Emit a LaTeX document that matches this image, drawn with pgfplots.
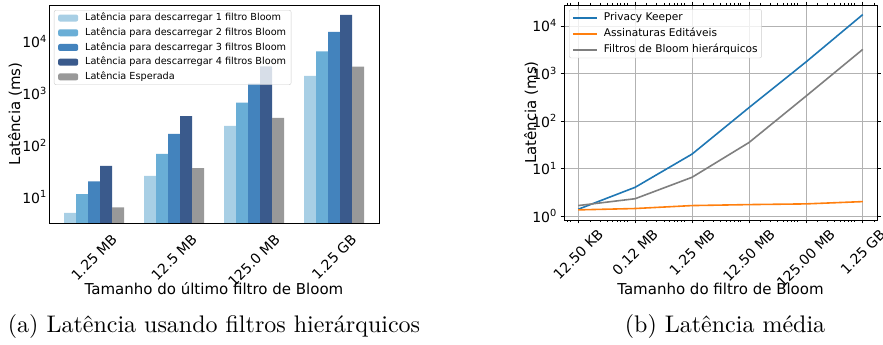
\documentclass[border=0pt]{standalone}
\usepackage{fontspec}
\usepackage{graphicx}
\usepackage{pgfplots}
\pgfplotsset{compat=1.18}
\newfontfamily\dv{DejaVu Sans}
\newfontfamily\lmten{lmroman10-regular.otf}
\definecolor{b1}{HTML}{A8CFE5}
\definecolor{b2}{HTML}{6AAED6}
\definecolor{b3}{HTML}{4383BD}
\definecolor{b4}{HTML}{3A5A8C}
\definecolor{bg}{HTML}{999999}
\definecolor{tblue}{HTML}{1F77B4}
\definecolor{torange}{HTML}{FF7F0E}
\definecolor{tgray}{HTML}{7F7F7F}
\newcommand{\tk}{\fontsize{14}{16}\selectfont\dv}
\newcommand{\lb}{\fontsize{15}{18}\selectfont\dv}
\newcommand{\sx}[1]{10\textsuperscript{#1}}
\newcommand{\rl}[1]{\rotatebox{45}{#1}}
\begin{document}
\begin{tikzpicture}
\path[use as bounding box] (0,0) rectangle (883pt,345pt);
% ---------------- left chart ----------------
\begin{axis}[
  at={(49pt,122pt)}, anchor=south west, scale only axis,
  width=330pt, height=218pt,
  ymode=log, ymin=3.14, ymax=51000,
  xmin=-0.5625, xmax=3.5625,
  xtick={0,1,2,3},
  xticklabels={\rl{1.25 MB},\rl{12.5 MB},\rl{125.0 MB},\rl{1.25 GB}},
  xticklabel style={font=\tk, anchor=north, inner sep=0pt, yshift=-6pt},
  ytick={10,100,1000,10000},
  yticklabels={\sx{1},\sx{2},\sx{3},\sx{4}},
  yticklabel style={font=\tk, anchor=east, inner sep=0pt, xshift=-2pt},
  tick style={draw=none}, yminorticks=false,
  axis line style={line width=0.9pt},
  ybar, bar width=0.15,
  xlabel={Tamanho do último filtro de Bloom},
  ylabel={Latência (ms)},
  xlabel style={font=\lb, at={(axis description cs:0.5,-0.303)}, anchor=center},
  ylabel style={font=\lb, at={(axis description cs:-0.103,0.5)}, anchor=center},
  legend cell align=left,
  legend image code/.code={\fill[#1, fill opacity=1] (0pt,-3.5pt) rectangle (20pt,3.5pt); \path (26pt,0pt);},
  legend style={font=\fontsize{9.7}{11}\selectfont\dv,
    at={(axis description cs:0.015,0.977)}, anchor=north west,
    draw=black!20, fill=white, fill opacity=0.8, text opacity=1,
    rounded corners=2pt, inner xsep=4pt, inner ysep=2pt, row sep=3pt,
    nodes={inner sep=1pt, text height=7.6pt, text depth=2.1pt}},
]
\addplot[fill=b1, draw=none, bar shift=-0.3] coordinates {(0,4.9) (1,25.5) (2,236) (3,2180)};
\addplot[fill=b2, draw=none, bar shift=-0.15] coordinates {(0,11.4) (1,68) (2,660) (3,6450)};
\addplot[fill=b3, draw=none, bar shift=0] coordinates {(0,20) (1,165) (2,1550) (3,15500)};
\addplot[fill=b4, draw=none, bar shift=0.15] coordinates {(0,40) (1,363) (2,3330) (3,33000)};
\addplot[fill=bg, draw=none, bar shift=0.3] coordinates {(0,6.3) (1,36) (2,338) (3,3300)};
\legend{Latência para descarregar 1 filtro Bloom,
        Latência para descarregar 2 filtros Bloom,
        Latência para descarregar 3 filtros Bloom,
        Latência para descarregar 4 filtros Bloom,
        Latência Esperada}
\end{axis}
% ---------------- right chart ----------------
\begin{axis}[
  at={(564pt,125pt)}, anchor=south west, scale only axis,
  width=313pt, height=215pt,
  xmode=log, ymode=log,
  xmin=7.029, xmax=2.223e6, ymin=0.82, ymax=27500,
  xtick={12.5,125,1250,12500,125000,1250000},
  xticklabels={\rl{12.50 KB},\rl{0.12 MB},\rl{1.25 MB},\rl{12.50 MB},\rl{125.00 MB},\rl{1.25 GB}},
  minor xtick={8,9,20,30,40,50,60,70,80,90,200,300,400,500,600,700,800,900,
    2000,3000,4000,5000,6000,7000,8000,9000,
    20000,30000,40000,50000,60000,70000,80000,90000,
    200000,300000,400000,500000,600000,700000,800000,900000,2000000},
  ytick={1,10,100,1000,10000},
  yticklabels={\sx{0},\sx{1},\sx{2},\sx{3},\sx{4}},
  yminorticks=false,
  xticklabel style={font=\tk, anchor=north, inner sep=0pt, yshift=-4.5pt},
  yticklabel style={font=\tk, anchor=east, inner sep=0pt, xshift=-3.5pt},
  grid=major, major grid style={color=black!30, line width=0.7pt},
  tick align=outside, major tick length=3.5pt, minor tick length=2pt,
  tick style={black, line width=0.7pt},
  axis line style={line width=0.9pt},
  xlabel={Tamanho do filtro de Bloom},
  ylabel={Latência (ms)},
  xlabel style={font=\lb, at={(axis description cs:0.5,-0.321)}, anchor=center},
  ylabel style={font=\lb, at={(axis description cs:-0.105,0.5)}, anchor=center},
  legend cell align=left,
  legend image code/.code={\draw[#1, opacity=1] (0pt,0pt) -- (24pt,0pt); \path (29pt,0pt);},
  legend style={font=\fontsize{10.6}{12}\selectfont\dv,
    at={(axis description cs:0.016,0.98)}, anchor=north west,
    draw=black!20, fill=white, fill opacity=0.8, text opacity=1,
    rounded corners=2pt, inner xsep=3pt, inner ysep=2pt, row sep=3.5pt,
    nodes={inner sep=1pt, text height=8.2pt, text depth=2.3pt}},
]
\addplot[tblue, line width=1.6pt] coordinates {(12.5,1.38) (125,4.0) (1250,20) (12500,190) (125000,1730) (1250000,17300)};
\addplot[torange, line width=1.6pt] coordinates {(12.5,1.34) (125,1.43) (1250,1.65) (12500,1.73) (125000,1.79) (1250000,2.0)};
\addplot[tgray, line width=1.6pt] coordinates {(12.5,1.65) (125,2.3) (1250,6.5) (12500,35) (125000,330) (1250000,3200)};
\legend{Privacy Keeper, Assinaturas Editáveis, Filtros de Bloom hierárquicos}
\end{axis}
% ---------------- captions ----------------
\node[font=\fontsize{24}{28}\selectfont\lmten] at (214pt,18pt) {(a) Latência usando filtros hierárquicos};
\node[font=\fontsize{24}{28}\selectfont\lmten] at (725pt,18pt) {(b) Latência média};
\end{tikzpicture}
\end{document}
